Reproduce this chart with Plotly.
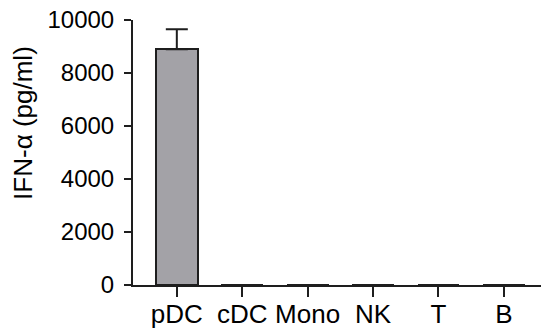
import plotly.graph_objects as go

categories = ["pDC", "cDC", "Mono", "NK", "T", "B"]
values = [8900, 0, 0, 0, 0, 0]
errors = [750, 0, 0, 0, 0, 0]
y_ticks = [0, 2000, 4000, 6000, 8000, 10000]
y_title = "IFN-α (pg/ml)"

FONT = "Liberation Sans, Arial, sans-serif"
INK = "#1e1e1e"

fig = go.Figure(
    go.Bar(
        x=categories,
        y=values,
        width=0.64,
        marker=dict(color="#a3a2a7", line=dict(color=INK, width=2)),
        error_y=dict(type="data", symmetric=False, array=errors,
                     arrayminus=[0] * len(errors), visible=True,
                     color=INK, thickness=2, width=11),
    )
)

# page body has an 8px default margin, so the figure is sized to fill the rest
fig.update_layout(
    width=541, height=322,
    margin=dict(l=125, r=0, t=12, b=45),
    paper_bgcolor="white", plot_bgcolor="white",
    font=dict(family=FONT, size=24, color="black"),
    showlegend=False,
    bargap=0,
)
fig.update_xaxes(
    type="category",
    range=[-0.67, 5.69],
    automargin=False,
    showline=True, linecolor=INK, linewidth=2,
    ticks="outside", ticklen=10, tickwidth=2, tickcolor=INK,
    showgrid=False, zeroline=False,
    tickfont=dict(size=26),
    ticklabelstandoff=-5,
    ticklabeloverflow="allow",
)
fig.update_yaxes(
    range=[0, 10000],
    automargin=False,
    tickvals=y_ticks, ticktext=[str(v) for v in y_ticks],
    showline=True, linecolor=INK, linewidth=2,
    ticks="outside", ticklen=7, tickwidth=2, tickcolor=INK,
    showgrid=False, zeroline=False,
    tickfont=dict(size=24),
    ticklabelstandoff=5,
    ticklabeloverflow="allow",
)
fig.add_annotation(
    text=y_title, textangle=-90, showarrow=False,
    xref="paper", yref="paper", x=-0.266, y=0.613,
    xanchor="center", yanchor="middle",
    font=dict(size=26, family=FONT, color="black"),
)

fig.write_html("out.html")
